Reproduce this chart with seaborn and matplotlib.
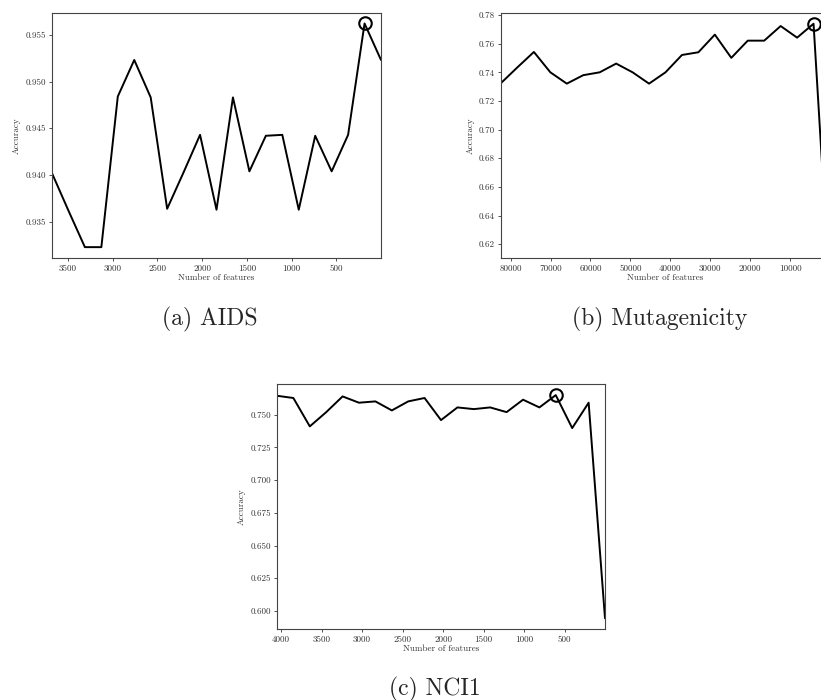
import matplotlib
matplotlib.use("Agg")
import matplotlib.pyplot as plt
import seaborn as sns
import pandas as pd

# AIDS
aids_features = [3680, 3496, 3312, 3128, 2944, 2760, 2576, 2392, 2208, 2024, 1840,
                 1656, 1472, 1288, 1104, 920, 736, 552, 368, 184, 0]
aids_acc = [0.9402, 0.9362, 0.9323, 0.9323, 0.9484, 0.9523, 0.9483, 0.9364, 0.9403, 0.9443, 0.9363,
            0.9483, 0.9404, 0.9442, 0.9443, 0.9363, 0.9442, 0.9404, 0.9443, 0.9562, 0.9523]

# Mutagenicity
muta_features = [82400, 78280, 74160, 70040, 65920, 61800, 57680, 53560, 49440, 45320, 41200,
                 37080, 32960, 28840, 24720, 20600, 16480, 12360, 8240, 4120, 0]
muta_acc = [0.7325, 0.7435, 0.7542, 0.7400, 0.7321, 0.7380, 0.7400, 0.7461, 0.7400, 0.7321, 0.7400,
            0.7521, 0.7540, 0.7663, 0.7501, 0.7621, 0.7621, 0.7723, 0.7642, 0.7739, 0.5840]

# NCI1
nci_features = [4050, 3848, 3645, 3442, 3240, 3038, 2835, 2632, 2430, 2228, 2025,
                1822, 1620, 1418, 1215, 1012, 810, 608, 405, 202, 0]
nci_acc = [0.7645, 0.7628, 0.7411, 0.7520, 0.7640, 0.7592, 0.7602, 0.7533, 0.7602, 0.7628, 0.7459,
           0.7556, 0.7543, 0.7556, 0.7520, 0.7615, 0.7556, 0.7650, 0.7398, 0.7592, 0.5944]

best_idx = [19, 19, 17]
captions = ["(a) AIDS", "(b) Mutagenicity", "(c) NCI1"]
y_limits = [(0.93114, 0.95732), (0.6104, 0.7814), (0.5862, 0.7735)]
y_ticks = [[0.935, 0.940, 0.945, 0.950, 0.955],
           [0.62, 0.64, 0.66, 0.68, 0.70, 0.72, 0.74, 0.76, 0.78],
           [0.600, 0.625, 0.650, 0.675, 0.700, 0.725, 0.750]]
x_ticks = [[3500, 3000, 2500, 2000, 1500, 1000, 500],
           [80000, 70000, 60000, 50000, 40000, 30000, 20000, 10000],
           [4000, 3500, 3000, 2500, 2000, 1500, 1000, 500]]
y_fmt = ["{:.3f}", "{:.2f}", "{:.3f}"]

sns.set_style("ticks")
plt.rcParams["font.family"] = ["cmr10", "DejaVu Serif"]
plt.rcParams["axes.formatter.use_mathtext"] = True
plt.rcParams["mathtext.fontset"] = "cm"

W, H = 821, 700
fig = plt.figure(figsize=(W / 100, H / 100), dpi=100)

# axes boxes in pixels: left, top, width, height (panel b runs past the right edge)
boxes = [(52, 13, 329, 245), (501, 13, 329, 245), (277, 384, 328, 245)]
cap_pos = [(210, 325), (660, 325), (435, 695)]

panels = [(aids_features, aids_acc), (muta_features, muta_acc), (nci_features, nci_acc)]

for i, (xs, ys) in enumerate(panels):
    l, t, w, h = boxes[i]
    ax = fig.add_axes([l / W, 1 - (t + h) / H, w / W, h / H])
    df = pd.DataFrame({"Number of features": xs, "Accuracy": ys})
    sns.lineplot(data=df, x="Number of features", y="Accuracy", ax=ax,
                 color="black", linewidth=1.4, sort=False)
    # selected number of features
    ax.plot(xs[best_idx[i]], ys[best_idx[i]], marker="o", markersize=9,
            markerfacecolor="none", markeredgecolor="black", markeredgewidth=1.5,
            clip_on=False)
    ax.set_xlim(max(xs), min(xs))
    ax.set_ylim(*y_limits[i])
    ax.set_xticks(x_ticks[i])
    ax.set_xticklabels([str(v) for v in x_ticks[i]])
    ax.set_yticks(y_ticks[i])
    ax.set_yticklabels([y_fmt[i].format(v) for v in y_ticks[i]])
    ax.tick_params(length=2.5, width=0.6, labelsize=6.5, pad=2, colors="#333333")
    ax.set_xlabel("Number of features", fontsize=6.5, labelpad=1, color="#333333")
    ax.set_ylabel("Accuracy", fontsize=6.5, labelpad=3, color="#333333")
    for s in ax.spines.values():
        s.set_linewidth(0.8)
        s.set_color("#444444")
    cx, cy = cap_pos[i]
    fig.text(cx / W, 1 - cy / H, captions[i], ha="center", va="baseline", fontsize=17)

fig.savefig("out.png", dpi=100)
